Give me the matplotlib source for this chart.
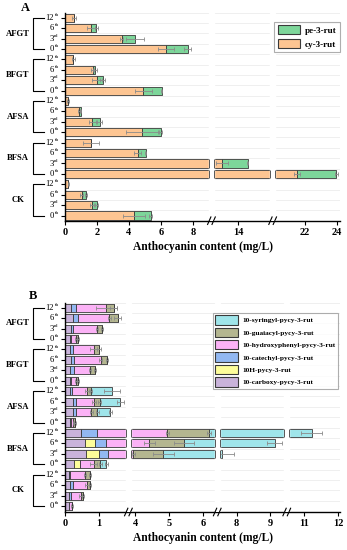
import numpy as np
import matplotlib
matplotlib.use('Agg')
import matplotlib.pyplot as plt
from matplotlib.patches import Patch

plt.rcParams['font.family'] = 'Liberation Serif'

# ---- data (rows listed top -> bottom) ----
groups = ['AFGT', 'BFGT', 'AFSA', 'BFSA', 'CK']
times = [('12', 'th'), ('6', 'th'), ('3', 'rd'), ('0', 'th')]

# panel A
cy_rut = [0.58, 1.63, 3.54, 6.35,
          0.52, 1.73, 2.02, 4.90,
          0.17, 0.88, 1.71, 4.83,
          1.63, 4.54, 13.0, 21.5,
          0.20, 1.04, 1.69, 4.33]
pe_rut = [0.00, 0.33, 0.84, 1.32,
          0.00, 0.15, 0.33, 1.14,
          0.00, 0.10, 0.46, 1.15,
          0.00, 0.50, 1.60, 2.46,
          0.00, 0.27, 0.29, 1.03]
cy_err = [0.12, 0.25, 0.10, 0.50,
          0.10, 0.10, 0.30, 0.55,
          0.05, 0.05, 0.20, 1.00,
          0.50, 0.20, 0.35, 0.20,
          0.03, 0.10, 0.15, 0.70]
pe_err = [0.00, 0.10, 0.55, 0.20,
          0.00, 0.10, 0.15, 0.05,
          0.00, 0.05, 0.15, 0.10,
          0.00, 0.05, 0.05, 0.10,
          0.00, 0.05, 0.08, 0.10]

# panel B
carboxy = [0.18, 0.24, 0.18, 0.14,
           0.14, 0.18, 0.16, 0.14,
           0.14, 0.23, 0.23, 0.15,
           0.46, 0.60, 0.62, 0.26,
           0.11, 0.16, 0.11, 0.13]
h_pycy = [0, 0, 0, 0,
          0, 0, 0, 0,
          0, 0, 0, 0,
          0, 0.28, 0.39, 0.17,
          0, 0, 0, 0]
catechyl = [0.14, 0.14, 0.06, 0.03,
            0.10, 0.10, 0.10, 0.04,
            0.08, 0.08, 0.08, 0.02,
            0.49, 0.33, 0.25, 0.02,
            0.05, 0.07, 0.07, 0.00]
hydroxyphenyl = [0.90, 0.93, 0.69, 0.15,
                 0.61, 0.77, 0.49, 0.14,
                 0.43, 0.54, 0.47, 0.08,
                 4.00, 3.21, 2.69, 0.40,
                 0.44, 0.42, 0.28, 0.08]
guaiacyl = [0.22, 0.24, 0.15, 0.06,
            0.15, 0.19, 0.14, 0.06,
            0.12, 0.17, 0.17, 0.05,
            1.23, 1.02, 0.88, 0.19,
            0.13, 0.10, 0.08, 0.00]
syringyl = [0, 0, 0, 0,
            0, 0, 0, 0,
            0.61, 0.61, 0.39, 0,
            5.03, 3.68, 2.75, 0.18,
            0, 0, 0, 0]
hyd_err = [0.30, 0.05, 0.03, 0.02,
           0.10, 0.05, 0.03, 0.02,
           0.05, 0.05, 0.05, 0.02,
           0.05, 0.17, 0.05, 0.10,
           0.03, 0.05, 0.05, 0.02]
gua_err = [0.10, 0.10, 0.03, 0.02,
           0.05, 0.03, 0.03, 0.02,
           0.03, 0.05, 0.05, 0.02,
           0.05, 0.30, 0.30, 0.05,
           0.03, 0.03, 0.03, 0.00]
syr_err = [0, 0, 0, 0,
           0, 0, 0, 0,
           0.23, 0.10, 0.05, 0,
           0.30, 0.23, 0.35, 0.05,
           0, 0, 0, 0]

EDGE = '#3a3a3a'
ERRC = '#8a8a8a'


def make_scale(segs, gap):
    # piecewise linear mapping that squeezes the broken parts of the axis
    xp, fp = [], []
    pos = 0.0
    for i, (a, b) in enumerate(segs):
        if i > 0:
            pos += gap
        xp += [a, b]
        fp += [pos, pos + (b - a)]
        pos += b - a
    xp = np.array([xp[0] - 1000] + xp + [xp[-1] + 1000])
    fp = np.array([fp[0] - 1000] + fp + [fp[-1] + 1000])
    fwd = lambda x: np.interp(x, xp, fp)
    inv = lambda y: np.interp(y, fp, xp)
    return fwd, inv


def setup_axis(ax, segs, gap, ticks):
    fwd, inv = make_scale(segs, gap)
    ax.set_xscale('function', functions=(fwd, inv))
    ax.set_xlim(segs[0][0], segs[-1][1])
    ax.set_ylim(-0.5, 19.5)
    ax.set_xticks(ticks)
    ax.set_xticklabels([str(t) for t in ticks], fontsize=7.5, fontweight='bold')
    ax.minorticks_off()
    ax.hlines(np.arange(0.5, 19.6, 1), segs[0][0], segs[-1][1], color='#ececec', lw=0.6, zorder=0)
    for s in ['top', 'right']:
        ax.spines[s].set_visible(False)
    ax.spines['left'].set_linewidth(1.0)
    ax.spines['bottom'].set_linewidth(1.0)
    ax.tick_params(axis='x', length=3, width=0.8, pad=2)
    ax.tick_params(axis='y', length=3, width=0.8)
    ypos = np.arange(19, -1, -1)
    ax.set_yticks(ypos)
    ax.set_yticklabels([])
    tr = ax.get_yaxis_transform()
    # tick labels: number + superscript
    for yi, (num, sup) in zip(ypos, times * 5):
        ax.annotate(sup, xy=(0, yi), xycoords=tr, xytext=(-4.6, 0.6), textcoords='offset points',
                    ha='right', va='bottom', fontsize=3.8)
        ax.annotate(num, xy=(0, yi), xycoords=tr, xytext=(-7.9, 0), textcoords='offset points',
                    ha='right', va='center', fontsize=6.2)
    ax.set_xlabel('Anthocyanin content (mg/L)', fontsize=8.3, fontweight='bold', labelpad=3)
    # breaks
    f0, f1 = fwd(segs[0][0]), fwd(segs[-1][1])
    for (a0, b0), (a1, b1) in zip(segs[:-1], segs[1:]):
        ax.axvspan(b0, a1, ymin=0.004, color='white', zorder=3)
        xc = ((fwd(b0) + fwd(a1)) / 2 - f0) / (f1 - f0)
        for dx in (-0.008, 0.008):
            ax.plot([xc + dx - 0.006, xc + dx + 0.006], [-0.018, 0.018], color='black',
                    lw=0.8, transform=ax.transAxes, clip_on=False, zorder=6)
    # group brackets
    for g, name in enumerate(groups):
        top = 19 - 4 * g
        bot = top - 3
        ax.plot([-0.078, -0.116, -0.116, -0.078], [top, top, bot, bot], color='black',
                lw=0.8, transform=tr, clip_on=False)
        ax.text(-0.172, (top + bot) / 2, name, transform=tr, ha='center', va='center',
                fontsize=6.2, fontweight='bold')
    return ypos


def gap_edges(ax, segs, y, left, right, h):
    for (a0, b0), (a1, b1) in zip(segs[:-1], segs[1:]):
        if left < b0 and right > a1:
            ax.vlines([b0, a1], y - h / 2, y + h / 2, color=EDGE, lw=0.6, zorder=4)


fig = plt.figure(figsize=(3.47, 5.5), dpi=100)

# ---------------- panel A ----------------
segsA = [(0, 9), (12.5, 16), (20.15, 24.2)]
axA = fig.add_axes([65 / 347, 1 - 220.7 / 550, 275 / 347, 208 / 550])
y = setup_axis(axA, segsA, 0.33, [0, 2, 4, 6, 8, 14, 22, 24])
h = 0.78
cy = np.array(cy_rut)
pe = np.array(pe_rut)
axA.barh(y, cy, height=h, color='#fdc592', edgecolor=EDGE, lw=0.6, zorder=2, label='cy-3-rut')
axA.barh(y, pe, left=cy, height=h, color='#7dd69a', edgecolor=EDGE, lw=0.6, zorder=2, label='pe-3-rut')
axA.errorbar(cy, y, xerr=cy_err, fmt='none', ecolor=ERRC, elinewidth=0.6, capsize=1.5, capthick=0.6, zorder=2.5)
m = pe > 0
axA.errorbar((cy + pe)[m], y[m], xerr=np.array(pe_err)[m], fmt='none', ecolor=ERRC, elinewidth=0.6,
             capsize=1.5, capthick=0.6, zorder=2.5)
for yi, c, p in zip(y, cy, pe):
    gap_edges(axA, segsA, yi, 0, c, h)
    if p > 0:
        gap_edges(axA, segsA, yi, c, c + p, h)
hA = [Patch(facecolor='#7dd69a', edgecolor=EDGE, lw=0.8), Patch(facecolor='#fdc592', edgecolor=EDGE, lw=0.8)]
legA = axA.legend(hA, ['pe-3-rut', 'cy-3-rut'], loc='upper right', bbox_to_anchor=(1.0, 0.955),
                  prop={'size': 6.6, 'weight': 'bold'}, handlelength=2.5, handleheight=1.1,
                  labelspacing=0.5, fancybox=False, edgecolor='#9a9a9a', borderpad=0.35,
                  handletextpad=0.5, borderaxespad=0)
legA.get_frame().set_linewidth(0.8)
fig.text(25 / 347, 1 - 8 / 550, 'A', fontsize=9, fontweight='bold', ha='center', va='center')

# ---------------- panel B ----------------
segsB = [(0, 1.8), (3.87, 6.35), (7.5, 9.41), (10.55, 12.05)]
axB = fig.add_axes([65 / 347, 1 - 512 / 550, 275 / 347, 209.5 / 550])
y = setup_axis(axB, segsB, 0.14, [0, 1, 4, 5, 6, 8, 9, 11, 12])
axB.set_ylim(-0.57, 19.5)
comps = [
    ('10-carboxy-pycy-3-rut', carboxy, '#c9b3da', None),
    ('10H-pycy-3-rut', h_pycy, '#fdfd9a', None),
    ('10-catechyl-pycy-3-rut', catechyl, '#92b8f2', None),
    ('10-hydroxyphenyl-pycy-3-rut', hydroxyphenyl, '#fbb2f6', hyd_err),
    ('10-guaiacyl-pycy-3-rut', guaiacyl, '#b4b690', gua_err),
    ('10-syringyl-pycy-3-rut', syringyl, '#9fe5ea', syr_err),
]
left = np.zeros(20)
for name, vals, col, err in comps:
    vals = np.array(vals, float)
    axB.barh(y, vals, left=left, height=h, color=col, edgecolor=EDGE, lw=0.6, zorder=2)
    for yi, l, v in zip(y, left, vals):
        if v > 0:
            gap_edges(axB, segsB, yi, l, l + v, h)
    if err is not None:
        m = vals > 0
        axB.errorbar((left + vals)[m], y[m], xerr=np.array(err)[m], fmt='none', ecolor=ERRC,
                     elinewidth=0.6, capsize=1.5, capthick=0.6, zorder=2.5)
    left = left + vals
hB = [Patch(facecolor=c, edgecolor=EDGE, lw=0.8) for _, _, c, _ in comps[::-1]]
legB = axB.legend(hB, [n for n, _, _, _ in comps[::-1]], loc='upper right', bbox_to_anchor=(0.993, 0.95),
                  prop={'size': 5.3, 'weight': 'bold'}, handlelength=3.2, handleheight=1.6,
                  labelspacing=0.4, fancybox=False, edgecolor='#9a9a9a', borderpad=0.3,
                  handletextpad=0.6, borderaxespad=0)
legB.get_frame().set_linewidth(0.8)
fig.text(33 / 347, 1 - 296 / 550, 'B', fontsize=9, fontweight='bold', ha='center', va='center')

fig.savefig('out.png', dpi=100)
